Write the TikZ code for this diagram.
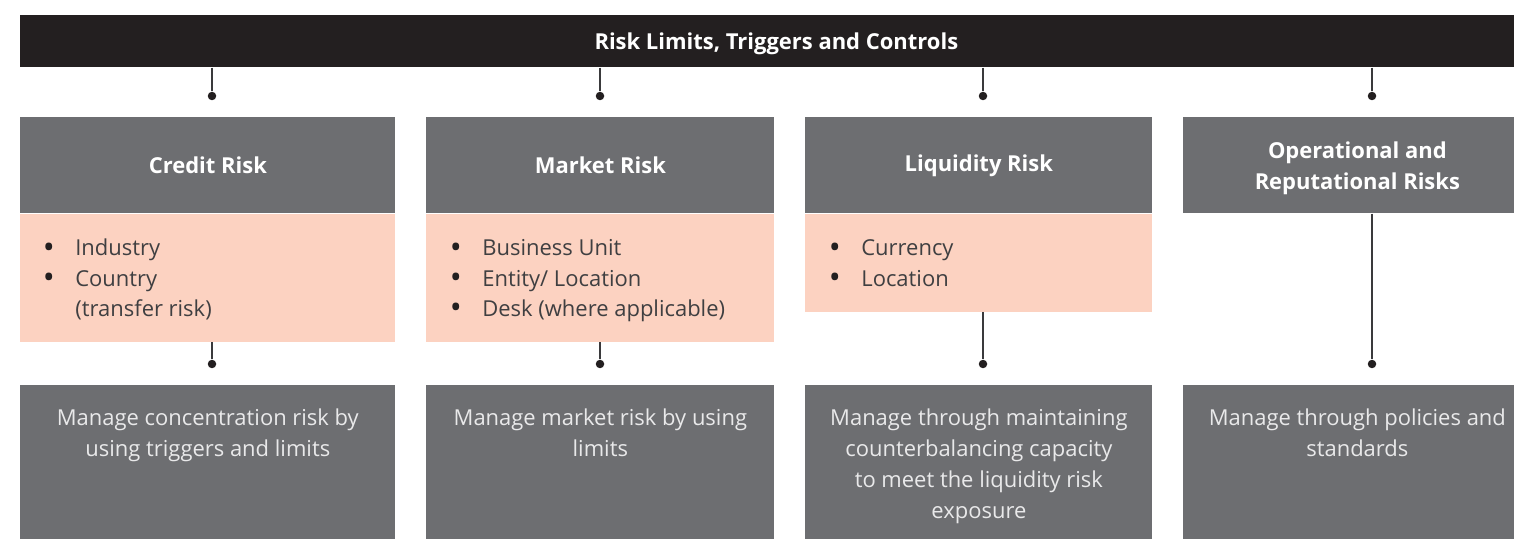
\documentclass[tikz,border=0pt]{standalone}
\usepackage{fontspec}
\setmainfont{Open Sans}
\usepackage{xcolor}
\usepackage{tikz}
\usetikzlibrary{positioning}
\definecolor{barblack}{HTML}{231F20}
\definecolor{boxgrey}{HTML}{6D6E71}
\definecolor{rosat}{HTML}{FCD2C1}
\definecolor{listtext}{HTML}{3F3F41}
\definecolor{notetext}{HTML}{E9E9EA}
\definecolor{linegrey}{HTML}{3A3A3C}

\newcommand{\itm}{\makebox[0.6cm][l]{\hspace*{-0.05cm}\raisebox{-0.045cm}{\textcolor{barblack}{\scalebox{1.45}{\textbullet}}}}}
\newcommand{\noitm}{\hspace*{0.6cm}}

\tikzset{
  headbox/.style={fill=boxgrey, text=white, inner sep=0pt, minimum height=1.92cm,
    align=center, font=\fontsize{12.5}{17.3}\selectfont\bfseries, anchor=north west},
  headtxt/.style={text=white, inner sep=0pt, align=center,
    font=\fontsize{12.5}{17.6}\selectfont\bfseries},
  listbox/.style={fill=rosat, inner sep=0pt, anchor=north west},
  listitems/.style={text=listtext, inner sep=0pt, align=left, anchor=north west,
    font=\fontsize{12.5}{17.3}\selectfont},
  notebox/.style={fill=boxgrey, inner sep=0pt, minimum height=3.5cm, anchor=north west},
  notetxt/.style={text=notetext, inner sep=0pt, align=center, anchor=north,
    font=\fontsize{12.5}{17.7}\selectfont},
  dot/.style={circle, fill=barblack, inner sep=0pt, minimum size=0.17cm},
  conn/.style={draw=linegrey, line width=0.9pt}
}

\begin{document}
\begin{tikzpicture}
	\clip (0,0) rectangle (30.28,-10.78);
	% Kopf
	\node[fill=barblack, inner sep=0pt, minimum width=30.24cm, minimum height=1.04cm,
	  anchor=north west] (bar) at (0.4,-0.3) {};
	\node[headtxt] (title) at ([yshift=-0.04cm]bar.center) {Risk Limits, Triggers and Controls};
	% Risikoarten
	\node[headbox, minimum width=7.5cm] (credit) at (0.4,-2.34) {Credit Risk};
	\node[headbox, minimum width=6.96cm] (market) at (8.52,-2.34) {Market Risk};
	\node[headbox, minimum width=6.94cm] (liquid) at (16.1,-2.34) {Liquidity Risk};
	\node[headbox, minimum width=6.96cm] (operat) at (23.66,-2.34) {};
	\node[headtxt] (operattxt) at ([yshift=-0.05cm]operat.center) {Operational and\\Reputational Risks};
	% Listen
	\node[listbox, minimum width=7.5cm, minimum height=2.56cm] (creditlist) at (credit.south west) {};
	\node[listbox, minimum width=6.96cm, minimum height=2.56cm] (marketlist) at (market.south west) {};
	\node[listbox, minimum width=6.94cm, minimum height=1.96cm] (liquidlist) at (liquid.south west) {};
	\node[listitems] (credititems) at ([shift={(0.5,-0.41)}]creditlist.north west)
	  {\strut\itm Industry\\\itm Country\\\noitm (transfer risk)};
	\node[listitems] (marketitems) at ([shift={(0.52,-0.41)}]marketlist.north west)
	  {\strut\itm Business Unit\\\itm Entity/ Location\\\itm Desk (where applicable)};
	\node[listitems] (liquiditems) at ([shift={(0.52,-0.41)}]liquidlist.north west)
	  {\strut\itm Currency\\\itm Location};
	% Steuerung
	\node[notebox, minimum width=7.5cm] (creditnote) at (0.4,-7.7) {};
	\node[notebox, minimum width=6.96cm] (marketnote) at (8.52,-7.7) {};
	\node[notebox, minimum width=6.94cm] (liquidnote) at (16.1,-7.7) {};
	\node[notebox, minimum width=6.96cm] (operatnote) at (23.66,-7.7) {};
	\node[notetxt] at ([yshift=-0.36cm]creditnote.north) {\strut Manage concentration risk by\\using triggers and limits};
	\node[notetxt] at ([yshift=-0.36cm]marketnote.north) {\strut Manage market risk by using\\limits};
	\node[notetxt] at ([yshift=-0.36cm]liquidnote.north) {\strut Manage through maintaining\\counterbalancing capacity\\to meet the liquidity risk\\exposure};
	\node[notetxt] at ([yshift=-0.36cm]operatnote.north) {\strut Manage through policies and\\standards};
	% Punkte
	\node[dot] (top1) at (4.24,-1.92) {};
	\node[dot] (top2) at (12.0,-1.92) {};
	\node[dot] (top3) at (19.66,-1.92) {};
	\node[dot] (top4) at (27.44,-1.92) {};
	\node[dot] (low1) at (4.24,-7.28) {};
	\node[dot] (low2) at (12.0,-7.28) {};
	\node[dot] (low3) at (19.66,-7.28) {};
	\node[dot] (low4) at (27.44,-7.28) {};
	% Linien
	\draw[conn] (bar.south -| top1) -- (top1);
	\draw[conn] (bar.south -| top2) -- (top2);
	\draw[conn] (bar.south -| top3) -- (top3);
	\draw[conn] (bar.south -| top4) -- (top4);
	\draw[conn] (creditlist.south -| low1) -- (low1);
	\draw[conn] (marketlist.south -| low2) -- (low2);
	\draw[conn] (liquidlist.south -| low3) -- (low3);
	\draw[conn] (operat.south -| low4) -- (low4);
\end{tikzpicture}
\end{document}
